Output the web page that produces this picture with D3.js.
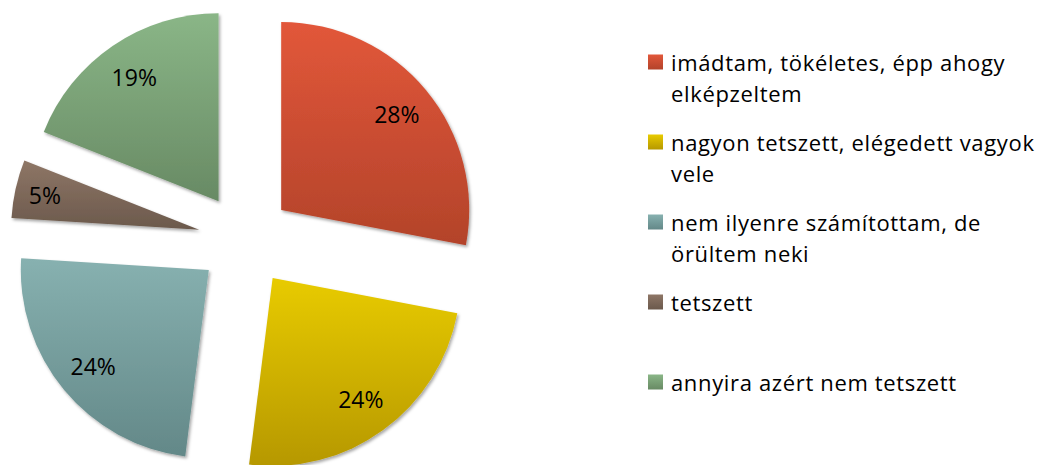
<!DOCTYPE html>
<html lang="hu">
<head>
<meta charset="UTF-8">
<title>Pie chart</title>
<script src="https://cdn.jsdelivr.net/npm/d3@7/dist/d3.min.js"></script>
<style>
  body { margin: 0; background: #fff; }
  svg { display: block; font-family: 'Open Sans', sans-serif; }
</style>
</head>
<body>
<svg id="chart" width="1044" height="465"></svg>
<script>
  // data
  const categories = [
    ["imádtam, tökéletes, épp ahogy", "elképzeltem"],
    ["nagyon tetszett, elégedett vagyok", "vele"],
    ["nem ilyenre számítottam, de", "örültem neki"],
    ["tetszett"],
    ["annyira azért nem tetszett"]
  ];
  const values = [28, 24, 24, 5, 19];
  const topColors = ["#e2573a", "#e8cb00", "#87b1b0", "#8e7666", "#8ab687"];
  const bottomColors = ["#b3432a", "#b69800", "#638888", "#6b594c", "#688a64"];

  const svg = d3.select("#chart");
  const cx = 245, cy = 240, radius = 188, explode = 47;

  const defs = svg.append("defs");
  topColors.forEach((c, i) => {
    const g = defs.append("linearGradient")
      .attr("id", "grad" + i)
      .attr("x1", 0).attr("y1", 0).attr("x2", 0).attr("y2", 1);
    g.append("stop").attr("offset", "0%").attr("stop-color", c);
    g.append("stop").attr("offset", "100%").attr("stop-color", bottomColors[i]);
  });
  const shadow = defs.append("filter").attr("id", "shadow")
    .attr("x", "-10%").attr("y", "-10%").attr("width", "130%").attr("height", "130%");
  shadow.append("feDropShadow")
    .attr("dx", 1.5).attr("dy", 2).attr("stdDeviation", 1.5)
    .attr("flood-color", "#000").attr("flood-opacity", 0.35);

  const pie = d3.pie().sort(null).value(d => d);
  const arcs = pie(values);
  const arc = d3.arc().innerRadius(0).outerRadius(radius);
  const labelArc = d3.arc().innerRadius(150).outerRadius(150);
  const smallLabelArc = d3.arc().innerRadius(158).outerRadius(158);

  const slices = svg.append("g").attr("transform", `translate(${cx},${cy})`);

  const slice = slices.selectAll("g.slice").data(arcs).enter()
    .append("g").attr("class", "slice")
    .attr("transform", d => {
      const mid = (d.startAngle + d.endAngle) / 2;
      return `translate(${Math.sin(mid) * explode},${-Math.cos(mid) * explode})`;
    });

  slice.append("path")
    .attr("d", arc)
    .attr("fill", (d, i) => `url(#grad${i})`)
    .attr("filter", "url(#shadow)");

  slice.append("text")
    .attr("transform", d => `translate(${(d.data < 10 ? smallLabelArc : labelArc).centroid(d)})`)
    .attr("text-anchor", "middle")
    .attr("dominant-baseline", "central")
    .attr("font-size", 23)
    .attr("fill", "#000")
    .text(d => d.data + "%");

  // legend
  const legend = svg.append("g").attr("transform", "translate(648,62)");
  const item = legend.selectAll("g.item").data(categories).enter()
    .append("g").attr("class", "item")
    .attr("transform", (d, i) => `translate(0,${i * 80})`);

  item.append("rect")
    .attr("x", 0).attr("y", -7.5)
    .attr("width", 15).attr("height", 15)
    .attr("fill", (d, i) => `url(#grad${i})`);

  item.append("text")
    .attr("x", 23)
    .attr("font-size", 22)
    .attr("letter-spacing", 0.65)
    .attr("fill", "#000")
    .selectAll("tspan").data(d => d).enter()
    .append("tspan")
    .attr("x", 23)
    .attr("y", (d, j) => j * 31)
    .attr("dominant-baseline", "central")
    .text(d => d);
</script>
</body>
</html>
